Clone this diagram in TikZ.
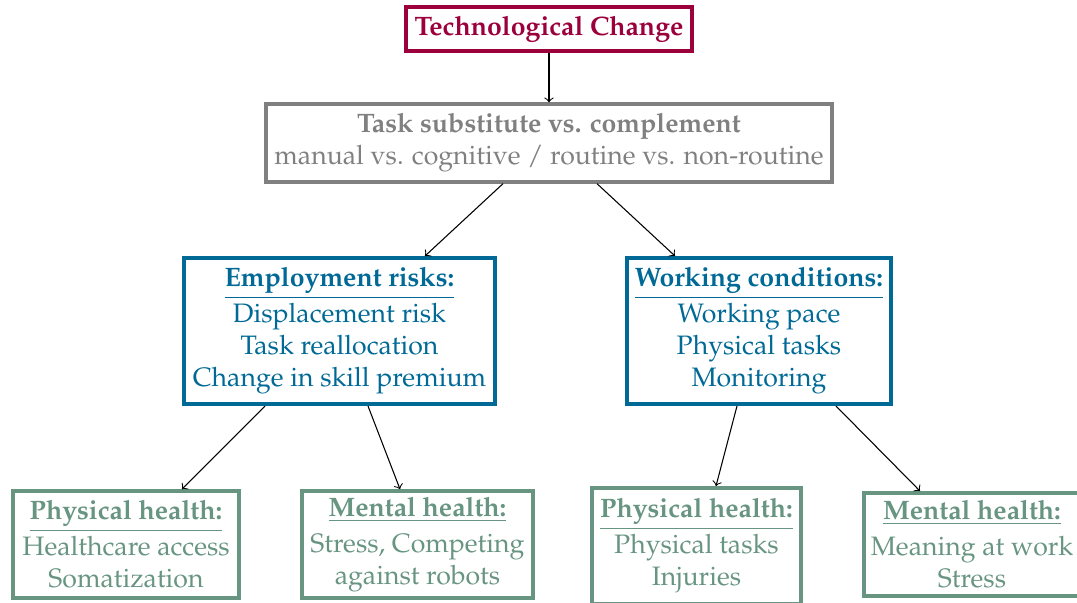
\documentclass[tikz,border=0pt]{standalone}
\usepackage[T1]{fontenc}
\usepackage{mathpazo}
\usetikzlibrary{calc}
\definecolor{crim}{RGB}{155,0,60}
\definecolor{tgray}{RGB}{128,128,128}
\definecolor{tblue}{RGB}{0,105,150}
\definecolor{tgreen}{RGB}{104,148,130}
\begin{document}
\begin{tikzpicture}[x=0.375pt,y=-0.375pt,
  box/.style={draw,line width=1.5pt,align=center,inner sep=0pt,font=\fontsize{10}{12}\selectfont},
  topbox/.style={box,draw=crim,text=crim,font=\fontsize{10}{12}\selectfont\bfseries},
  graybox/.style={box,draw=tgray,text=tgray},
  bluebox/.style={box,draw=tblue,text=tblue},
  greenbox/.style={box,draw=tgreen,text=tgreen},
  conn/.style={->,line width=0.4pt,black}]
\useasboundingbox (0,0) rectangle (1077,602);
\node[topbox,minimum width=107pt,minimum height=16.5pt] (top) at (549,29) {Technological Change};
\node[graybox,minimum width=212pt,minimum height=29pt] (task) at (549,143) {\textbf{Task substitute vs. complement}\\manual vs. cognitive / routine vs. non-routine};
\node[bluebox,minimum width=116.6pt,minimum height=54.75pt] (emp) at (339.5,331) {\underline{\textbf{Employment risks:}}\\[1.5pt]Displacement risk\\Task reallocation\\Change in skill premium};
\node[bluebox,minimum width=99pt,minimum height=54.75pt] (work) at (759,331) {\underline{\textbf{Working conditions:}}\\[1.5pt]Working pace\\Physical tasks\\Monitoring};
\node[greenbox,minimum width=84.75pt,minimum height=40pt] (ph1) at (126,544.5) {\underline{\textbf{Physical health:}}\\[1.5pt]Healthcare access\\Somatization};
\node[greenbox,minimum width=86.6pt,minimum height=40pt] (mh1) at (417.5,544.5) {\underline{\textbf{Mental health:}}\\[1.5pt]Stress, Competing\\against robots};
\node[greenbox,minimum width=78.4pt,minimum height=43.5pt] (ph2) at (696.5,546) {\underline{\textbf{Physical health:}}\\[1.5pt]Physical tasks\\Injuries};
\node[greenbox,minimum width=81pt,minimum height=38.6pt] (mh2) at (972,544.5) {\underline{\textbf{Mental health:}}\\[1.5pt]Meaning at work\\Stress};
\draw[conn] (top.south) -- (task.north);
\draw[conn] ($(task.south)+(-46,0)$) -- ($(emp.north)+(85.5,0)$);
\draw[conn] ($(task.south)+(48,0)$) -- ($(work.north)+(-84,0)$);
\draw[conn] ($(emp.south)+(-74.5,0)$) -- ($(ph1.north)+(56,0)$);
\draw[conn] ($(emp.south)+(28.5,0)$) -- ($(mh1.north)+(-17.5,0)$);
\draw[conn] ($(work.south)+(-22,0)$) -- ($(ph2.north)+(19.5,0)$);
\draw[conn] ($(work.south)+(77,0)$) -- ($(mh2.north)+(-52,0)$);
\end{tikzpicture}
\end{document}
